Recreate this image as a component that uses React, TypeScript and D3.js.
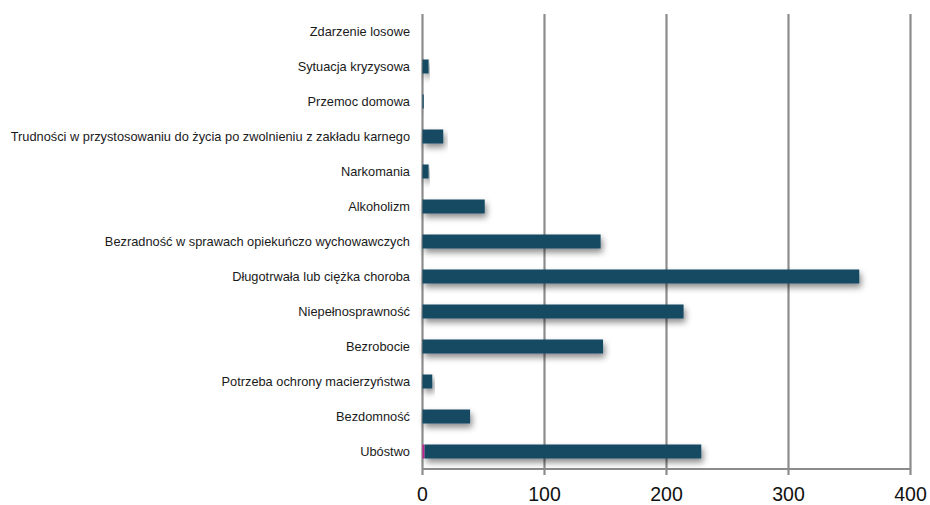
import React from "react";
import * as d3 from "d3";

const categories = [
  "Zdarzenie losowe",
  "Sytuacja kryzysowa",
  "Przemoc domowa",
  "Trudności w przystosowaniu do życia po zwolnieniu z zakładu karnego",
  "Narkomania",
  "Alkoholizm",
  "Bezradność w sprawach opiekuńczo wychowawczych",
  "Długotrwała lub ciężka choroba",
  "Niepełnosprawność",
  "Bezrobocie",
  "Potrzeba ochrony macierzyństwa",
  "Bezdomność",
  "Ubóstwo",
];
const seriesPink = [0, 0, 0, 0, 0, 0, 0, 0, 0, 0, 0, 0, 1.5];
const seriesMain = [0, 5, 1, 17, 5, 51, 146, 358, 214, 148, 8, 39, 227];
const xTicks = [0, 100, 200, 300, 400];

const W = 930;
const H = 505;
const x0 = 422.5;
const x1 = 910.5;
const yTop = 14;
const yBottom = 469;

export default function App() {
  const x = d3.scaleLinear().domain([0, 400]).range([x0, x1]);
  const y = d3
    .scaleBand<string>()
    .domain(categories)
    .range([yTop, yBottom])
    .paddingInner(0.6)
    .paddingOuter(0.3);
  const bh = y.bandwidth();
  const font = "'Liberation Sans', Arial, sans-serif";
  return (
    <svg
      width={W}
      height={H}
      style={{ position: "absolute", left: 0, top: 0, background: "#fff" }}
    >
      <defs>
        <filter id="sh" x="-10%" y="-60%" width="130%" height="280%">
          <feDropShadow dx="2" dy="4" stdDeviation="3" floodColor="#000" floodOpacity="0.45" />
        </filter>
      </defs>
      {xTicks.map((t) => (
        <line
          key={t}
          x1={x(t)}
          x2={x(t)}
          y1={yTop}
          y2={yBottom + 6}
          stroke="#8c8c8c"
          strokeWidth={2.2}
        />
      ))}
      <line x1={x(0)} x2={x(400)} y1={yBottom} y2={yBottom} stroke="#8c8c8c" strokeWidth={2.2} />
      {categories.map((c, i) => {
        const yy = y(c)!;
        return (
          <g key={c}>
            {seriesMain[i] > 0 && (
              <rect
                x={x(seriesPink[i])}
                y={yy}
                width={x(seriesPink[i] + seriesMain[i]) - x(seriesPink[i])}
                height={bh}
                fill="#134862"
                filter="url(#sh)"
              />
            )}
            {seriesPink[i] > 0 && (
              <rect
                x={x(0)}
                y={yy}
                width={x(seriesPink[i]) - x(0)}
                height={bh}
                fill="#c0238e"
              />
            )}
            <text
              x={410}
              y={yy + bh / 2}
              dy="0.35em"
              textAnchor="end"
              fontFamily={font}
              fontSize={12.8}
              fill="#1a1a1a"
            >
              {c}
            </text>
          </g>
        );
      })}
      {xTicks.map((t) => (
        <text
          key={"l" + t}
          x={x(t)}
          y={494.5}
          dy="0.35em"
          textAnchor="middle"
          fontFamily={font}
          fontSize={19.5}
          fill="#111"
        >
          {t}
        </text>
      ))}
    </svg>
  );
}
